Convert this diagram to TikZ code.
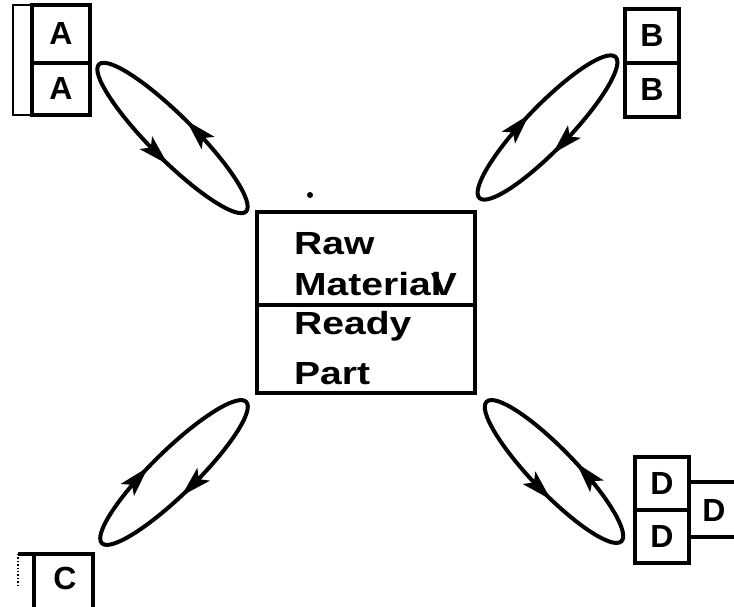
\documentclass[tikz,border=0pt]{standalone}
\usepackage{fontspec}
\setmainfont{Liberation Sans}
\newfontfamily\cellfont{Liberation Sans}
\newfontfamily\stockfont[FakeStretch=1.22]{Liberation Sans}
\usetikzlibrary{decorations.markings}

\begin{document}
\begin{tikzpicture}[x=1pt,y=1pt,
  boxline/.style={line width=4.4pt},
  loopline/.style={line width=4pt},
  cell/.style={draw, boxline, inner sep=0pt, outer sep=0pt,
    font=\cellfont\bfseries\fontsize{32}{32}\selectfont},
  letter/.style={inner sep=0pt, font=\cellfont\bfseries\fontsize{32}{32}\selectfont},
  stocktext/.style={inner sep=0pt, anchor=base west,
    font=\stockfont\bfseries\fontsize{32}{32}\selectfont},
  % loop with heads pointing along the path (counterclockwise)
  loopccw/.style 2 args={loopline, postaction={decorate}, decoration={markings,
    mark=at position #1 with {\fill (11,0) -- (-20,9) -- (-13,0) -- (-20,-9) -- cycle;},
    mark=at position #2 with {\fill (11,0) -- (-20,9) -- (-13,0) -- (-20,-9) -- cycle;}}},
  % loop with heads pointing against the path (clockwise)
  loopcw/.style 2 args={loopline, postaction={decorate}, decoration={markings,
    mark=at position #1 with {\fill (-11,0) -- (20,9) -- (13,0) -- (20,-9) -- cycle;},
    mark=at position #2 with {\fill (-11,0) -- (20,9) -- (13,0) -- (20,-9) -- cycle;}}},
]
\useasboundingbox (0,0) rectangle (734,607);

% central store box
\node[draw, boxline, minimum width=218, minimum height=181, inner sep=0pt]
  (stock) at (366,304.5) {};
\draw[boxline] (stock.west |- 0,302) -- (stock.east |- 0,302);
\node[stocktext] (raw)   at (294,352) {Raw};
\node[stocktext] (mat)   at (294,311) {Materia\rlap{l}V};
\node[stocktext] (ready) at (294,272) {Ready};
\node[stocktext] (part)  at (294,222) {Part};
\fill (310,412) circle (3);

% A stack (top left)
\draw[line width=2.8pt] (13,492) rectangle (32,602);
\node[cell, minimum width=58, minimum height=58] (a1) at (61,573) {A};
\node[cell, minimum width=58, minimum height=52] (a2) at (61,518) {A};

% B stack (top right)
\node[cell, minimum width=54, minimum height=54] (b1) at (652,571) {B};
\node[cell, minimum width=54, minimum height=54] (b2) at (652,517) {B};

% C box (bottom left, running off the page)
\draw[boxline] (18,53) -- (93,53) -- (93,-5);
\draw[boxline] (34,53) -- (34,-5);
\draw[line width=1.4pt, dotted] (18,53) -- (18,20);
\node[letter] (c1) at (65,29) {C};

% D stack (bottom right) with side box
\node[cell, minimum width=54, minimum height=53] (d1) at (662,123.5) {D};
\node[cell, minimum width=54, minimum height=53] (d2) at (662,70.5) {D};
\draw[boxline] (d1.east |- 0,125) -- (740,125);
\draw[boxline] (d2.east |- 0,70) -- (740,70);
\node[letter] (d3) at (714,97) {D};

% flow loops
\draw[loopccw={0.23}{0.76}, shift={(172.5,469)}, rotate=-45]
  (0,0) ellipse [x radius=104, y radius=22];
\draw[loopcw={0.285}{0.74}, shift={(547.5,479.5)}, rotate=46]
  (0,0) ellipse [x radius=98, y radius=22];
\draw[loopcw={0.31}{0.75}, shift={(174,134.5)}, rotate=44.4]
  (0,0) ellipse [x radius=101, y radius=22];
\draw[loopccw={0.20}{0.767}, shift={(554,135.5)}, rotate=-46]
  (0,0) ellipse [x radius=97, y radius=22];
\end{tikzpicture}
\end{document}
